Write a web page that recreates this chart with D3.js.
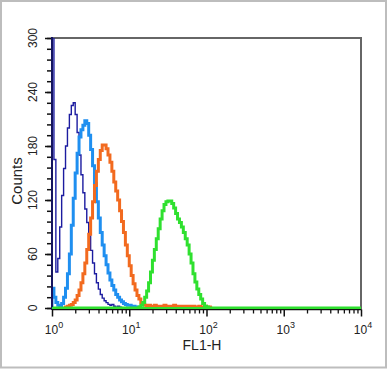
<!DOCTYPE html>
<html>
<head>
<meta charset="utf-8">
<script src="https://cdn.jsdelivr.net/npm/d3@7"></script>
<style>
  html, body { margin: 0; padding: 0; background: #fff; }
  svg { display: block; font-family: "Liberation Sans", Arial, sans-serif; }
</style>
</head>
<body>
<svg id="chart" width="389" height="370"></svg>
<script>
// ---- data (log10 of FL1-H bin start, bin width in decades, counts per bin) ----
const binWidth = 0.025;
const yTickValues = [0, 60, 120, 180, 240, 300];
const xTickExponents = [0, 1, 2, 3, 4];
const xLabel = "FL1-H";
const yLabel = "Counts";

const navyStart = 0.0;
const navyCounts = [320, 165, 40, 55, 90, 125, 155, 180, 200, 215, 225, 228, 215, 195, 170, 148, 128, 110, 95, 80,
  64, 50, 38, 28, 21, 15, 11, 8, 6, 4, 3, 4, 2, 1, 2, 1, 0];

const lightBlueStart = 0.0;
const lightBlueCounts = [22, 12, 6, 3, 2, 5, 12, 22, 38, 60, 92, 122, 150, 172, 190, 198, 203, 208, 205, 192,
  176, 158, 138, 118, 100, 84, 70, 58, 48, 39, 31, 25, 20, 15, 12, 9, 7, 5, 4, 3, 3, 2, 2, 1, 1, 0];

const orangeStart = 0.175;
const orangeCounts = [1, 2, 3, 4, 6, 9, 14, 20, 28, 38, 50, 65, 82, 100, 118, 136, 152, 165, 175, 181,
  181, 177, 170, 162, 152, 140, 130, 120, 108, 96, 84, 70, 58, 47, 36, 27, 20, 14, 10, 6,
  4, 3, 2, 3, 2, 2, 3, 2, 2, 1, 2, 3, 1, 2, 2, 1, 3, 2, 1, 2,
  2, 1, 2, 1, 2, 1, 2, 1, 1, 2, 1, 1, 2, 1, 1, 0];

const greenStart = 1.1;
const greenCounts = [0, 1, 3, 6, 12, 19, 28, 40, 53, 65, 77, 88, 99, 108, 115, 118, 119, 119, 116, 111,
  105, 99, 95, 90, 84, 77, 70, 60, 50, 38, 29, 21, 15, 10, 5, 2, 1, 0];

const seriesList = [
  { name: "navy", start: navyStart, counts: navyCounts, color: "#1c1ca0", width: 1.4, full: false },
  { name: "lightblue", start: lightBlueStart, counts: lightBlueCounts, color: "#1f8ff0", width: 3, full: false },
  { name: "orange", start: orangeStart, counts: orangeCounts, color: "#f26a1f", width: 3, full: false },
  { name: "green", start: greenStart, counts: greenCounts, color: "#2fe02f", width: 3, full: true }
];

// ---- layout ----
const svg = d3.select("#chart");
const L = 52, R = 361, T = 38, B = 308;

const x = d3.scaleLog().domain([1, 10000]).range([L, R]);
const y = d3.scaleLinear().domain([0, 300]).range([B, T]);

// outer frame
svg.append("rect").attr("x", 1).attr("y", 1).attr("width", 385).attr("height", 366.5)
  .attr("fill", "#fff").attr("stroke", "#bdbdbd").attr("stroke-width", 2);

// clip
svg.append("clipPath").attr("id", "plotclip").append("rect")
  .attr("x", L).attr("y", T).attr("width", R - L).attr("height", B - T + 4);

// series
const line = d3.line().x(d => x(d[0])).y(d => y(d[1])).curve(d3.curveStepAfter);
function points(s) {
  const p = s.counts.map((c, i) => [Math.pow(10, s.start + i * binWidth), c]);
  p.unshift([Math.pow(10, s.start), 0]);
  p.push([Math.pow(10, s.start + s.counts.length * binWidth), 0]);
  if (s.full) { p.unshift([x.domain()[0], 0]); p.push([x.domain()[1], 0]); }
  return p;
}

// frame top/right
svg.append("line").attr("x1", L).attr("x2", R).attr("y1", T).attr("y2", T)
  .attr("stroke", "#666").attr("stroke-width", 2);
svg.append("line").attr("x1", R).attr("x2", R).attr("y1", T - 1).attr("y2", B + 2)
  .attr("stroke", "#666").attr("stroke-width", 2);

const g = svg.append("g").attr("clip-path", "url(#plotclip)");
seriesList.forEach(s => {
  g.append("path").datum(points(s)).attr("d", line)
    .attr("fill", "none").attr("stroke", s.color).attr("stroke-width", s.width)
    .attr("stroke-linejoin", "miter");
});

// y axis
const yMinor = d3.range(0, 301, 12);
svg.append("g").attr("transform", `translate(${L},0)`)
  .call(d3.axisLeft(y).tickValues(yMinor).tickSize(5).tickFormat(""))
  .call(g => g.select(".domain").remove())
  .selectAll("line").attr("stroke", "#111").attr("stroke-width", 1.5);
svg.append("g").attr("transform", `translate(${L},0)`)
  .call(d3.axisLeft(y).tickValues(yTickValues).tickSize(7).tickFormat(""))
  .call(g => g.select(".domain").remove())
  .selectAll("line").attr("stroke", "#111").attr("stroke-width", 1.5);
svg.append("line").attr("x1", L).attr("x2", L).attr("y1", T - 1).attr("y2", B + 2)
  .attr("stroke", "#151560").attr("stroke-width", 2);

yTickValues.forEach(v => {
  svg.append("text").attr("transform", `translate(36.5,${y(v)}) rotate(-90)`)
    .attr("text-anchor", "middle").attr("font-size", 12).attr("fill", "#222").text(v);
});
svg.append("text").attr("transform", `translate(22,${(T + B) / 2 + 8}) rotate(-90)`)
  .attr("text-anchor", "middle").attr("font-size", 15).attr("fill", "#222").text(yLabel);

// x axis
const xMinor = [];
for (let e = 0; e < 4; e++) for (let k = 2; k <= 9; k++) xMinor.push(k * Math.pow(10, e));
svg.append("g").attr("transform", `translate(0,${B + 1.5})`)
  .call(d3.axisBottom(x).tickValues(xMinor).tickSize(4).tickFormat(""))
  .call(g => g.select(".domain").remove())
  .selectAll("line").attr("stroke", "#111").attr("stroke-width", 1.3);
svg.append("g").attr("transform", `translate(0,${B + 1.5})`)
  .call(d3.axisBottom(x).tickValues(xTickExponents.map(e => Math.pow(10, e))).tickSize(7).tickFormat(""))
  .call(g => g.select(".domain").remove())
  .selectAll("line").attr("stroke", "#111").attr("stroke-width", 1.5);
svg.append("line").attr("x1", L).attr("x2", R).attr("y1", B + 1.5).attr("y2", B + 1.5)
  .attr("stroke", "#111").attr("stroke-width", 1.3);
// green baseline redrawn on top of axis
svg.append("line").attr("x1", L).attr("x2", R).attr("y1", B).attr("y2", B)
  .attr("stroke", "#2fe02f").attr("stroke-width", 2);

xTickExponents.forEach(e => {
  const t = svg.append("text").attr("x", x(Math.pow(10, e)) + 2).attr("y", B + 26)
    .attr("text-anchor", "middle").attr("font-size", 12).attr("fill", "#222");
  t.append("tspan").text("10");
  t.append("tspan").attr("dy", -6).attr("font-size", 9).text(e);
});
svg.append("text").attr("x", 202).attr("y", 350).attr("text-anchor", "middle")
  .attr("font-size", 14).attr("fill", "#222").text(xLabel);
</script>
</body>
</html>
